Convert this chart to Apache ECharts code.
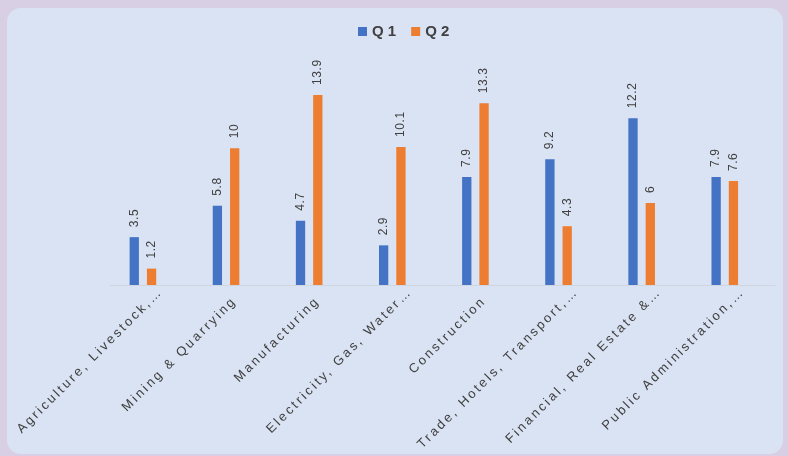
<!DOCTYPE html>
<html><head><meta charset="utf-8">
<script src="https://cdn.jsdelivr.net/npm/echarts@6/dist/echarts.min.js"></script>
<style>html,body{margin:0;padding:0;background:#d8cfe5;}#c{width:788px;height:456px;}</style>
</head><body><div id="c"></div>
<script>
const categories = ["Agriculture, Livestock,…","Mining & Quarrying","Manufacturing","Electricity, Gas, Water…","Construction","Trade, Hotels, Transport,…","Financial, Real Estate &…","Public Administration,…"];
const q1 = [3.5, 5.8, 4.7, 2.9, 7.9, 9.2, 12.2, 7.9];
const q2 = [1.2, 10, 13.9, 10.1, 13.3, 4.3, 6, 7.6];
const spacer = [null, null, null, null, null, null, null, null];
const seriesNames = ["Q 1", "Q 2"];

// Excel-like letter spacing for canvas text (applies to both drawing and measuring)
(function(){
  const P = CanvasRenderingContext2D.prototype;
  function sp(ctx){
    const f = ctx.font || '';
    let s = '0px';
    if (/\b13px\b/.test(f)) s = '2.5px';
    else if (/\b12px\b/.test(f)) s = '0.6px';
    try { ctx.letterSpacing = s; } catch(e) {}
  }
  const of = P.fillText, om = P.measureText;
  P.fillText = function(){ sp(this); return of.apply(this, arguments); };
  P.measureText = function(){ sp(this); return om.apply(this, arguments); };
})();

// truncated labels sit a little further up the diagonal, as in the original
const categoryData = categories.map(c => c.endsWith('…')
  ? {value:c, textStyle:{padding:[0,-13,0,0]}} : c);

const chart = echarts.init(document.getElementById('c'));
const label = {show:true, position:'top', rotate:90, align:'left', verticalAlign:'middle', distance:10,
  color:'#404040', fontSize:12, fontFamily:'Liberation Sans'};
chart.setOption({
  animation:false,
  graphic:[{type:'rect', z:-10, shape:{x:7,y:8,width:776,height:446,r:14}, style:{fill:'#dae3f3'}}],
  legend:{top:24, left:358, padding:0, data:seriesNames, itemWidth:9, itemHeight:9, itemGap:15, icon:'rect',
    textStyle:{fontSize:15, fontWeight:'bold', color:'#404040', fontFamily:'Liberation Sans'}},
  grid:{left:110, width:665, top:66.3, bottom:171, containLabel:false, outerBoundsMode:'none'},
  xAxis:{type:'category', data:categoryData,
    axisLine:{lineStyle:{color:'#d0d6e0', width:1}}, axisTick:{show:false},
    axisLabel:{rotate:45, interval:0, margin:14, fontSize:13, color:'#404040', fontFamily:'Liberation Sans'}},
  yAxis:{type:'value', min:0, max:16, interval:2, show:false, splitLine:{show:false}},
  series:[
    {name:seriesNames[0], type:'bar', data:q1, barWidth:9.3, barGap:'86%', itemStyle:{color:'#4472c4'}, label:label},
    {name:seriesNames[1], type:'bar', data:q2, barWidth:9.3, barGap:'86%', itemStyle:{color:'#ed7d31'}, label:label},
    {name:'spacer', type:'bar', data:spacer, barWidth:9.3, barGap:'86%'}
  ]
});
</script></body></html>
